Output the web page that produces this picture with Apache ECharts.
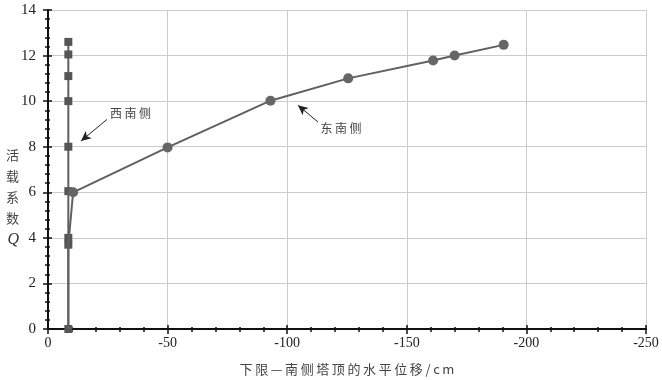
<!DOCTYPE html>
<html><head><meta charset="utf-8">
<script src="https://cdn.jsdelivr.net/npm/echarts@6/dist/echarts.min.js"></script>
<style>html,body{margin:0;padding:0;background:#fff}#c{width:662px;height:380px}</style>
</head><body><div id="c"></div>
<script>
// West-south side (squares)
const westX = [-8.5, -8.5, -8.5, -8.5, -8.5, -8.5, -8.5, -8.5, -8.5];
const westQ = [0, 3.7, 4.0, 6.05, 8.0, 10.0, 11.1, 12.05, 12.6];
// East-south side (circles)
const eastX = [-8.5, -8.5, -10.5, -50, -93, -125.5, -161, -170, -190.5];
const eastQ = [0, 3.7, 6.0, 7.97, 10.02, 11.0, 11.78, 12.0, 12.47];
const showEastSymbol = [false, false, true, true, true, true, true, true, true];
const xTicks = [0, -50, -100, -150, -200, -250];
const yTicks = [0, 2, 4, 6, 8, 10, 12, 14];
const labelWest = '西南侧', labelEast = '东南侧';
const xName = '下限—南侧塔顶的水平位移/cm';
const yNameChars = ['活', '载', '系', '数'];
// annotation anchors in data coordinates
const westArrow = [[-24.7, 9.2], [-13.8, 8.25]];
const eastArrow = [[-112.9, 9.08], [-104.5, 9.82]];
const westText = [-34.5, 9.45];
const eastText = [-122.5, 8.8];

const lineColor = '#606060';
const serif = 'Liberation Serif';
const cjk = 'Noto Sans CJK SC';
const spaced = s => Array.from(s).join('\u2009');

const westData = westX.map((x, i) => [x, westQ[i]]);
const eastData = eastX.map((x, i) => ({value: [x, eastQ[i]], symbol: showEastSymbol[i] ? 'circle' : 'none'}));

const xBase = {
  type: 'value', min: -250, max: 0, interval: 50, inverse: true,
  axisLine: {show: true, onZero: false, lineStyle: {color: '#111', width: 2}},
};
const yBase = {
  type: 'value', min: 0, max: 14, interval: 2,
  axisLine: {show: true, onZero: false, lineStyle: {color: '#111', width: 2}},
};
const textPoint = (txt, coord) => ({
  silent: true, symbol: 'circle', symbolSize: 2, itemStyle: {color: 'rgba(0,0,0,0)'},
  label: {show: true, position: 'inside', formatter: spaced(txt), color: '#444', fontFamily: cjk, fontSize: 12},
  data: [{coord: coord, value: txt}]
});
const arrow = pts => ({
  silent: true, symbol: ['none', 'arrow'], symbolSize: [7, 10],
  lineStyle: {color: '#222', width: 1, type: 'solid'}, label: {show: false},
  data: [[{coord: pts[0]}, {coord: pts[1]}]]
});

const chart = echarts.init(document.getElementById('c'), null, {renderer: 'canvas'});
chart.setOption({
  animation: false,
  grid: {left: 48, right: 16, top: 10, bottom: 51, outerBoundsMode: 'none', containLabel: false},
  xAxis: [
    Object.assign({}, xBase, {
      axisTick: {show: true, length: 5, lineStyle: {color: '#111', width: 1.5}},
      minorTick: {show: true, splitNumber: 5, length: 3, lineStyle: {color: '#111', width: 1.5}},
      axisLabel: {color: '#222', fontFamily: serif, fontSize: 14, margin: 7,
        customValues: xTicks, formatter: v => String(v)},
      splitLine: {show: true, lineStyle: {color: '#cccccc', width: 1}},
      name: spaced(xName), nameLocation: 'middle', nameGap: 34,
      nameTextStyle: {color: '#444', fontFamily: cjk, fontSize: 13}
    }),
    Object.assign({}, xBase, {
      axisTick: {show: true, inside: true, length: 4, lineStyle: {color: '#111', width: 1.5}},
      minorTick: {show: true, splitNumber: 5, length: 2, lineStyle: {color: '#111', width: 1.5}},
      axisLabel: {show: false}, splitLine: {show: false}, position: 'bottom'
    })
  ],
  yAxis: [
    Object.assign({}, yBase, {
      axisTick: {show: true, length: 5, lineStyle: {color: '#111', width: 1.5}},
      minorTick: {show: true, splitNumber: 5, length: 3, lineStyle: {color: '#111', width: 1.5}},
      axisLabel: {color: '#222', fontFamily: serif, fontSize: 15, margin: 12,
        customValues: yTicks, formatter: v => String(v)},
      splitLine: {show: true, lineStyle: {color: '#cccccc', width: 1}},
      name: yNameChars.join('\n') + '\n{q|Q}', nameLocation: 'middle', nameGap: 29, nameRotate: 0,
      nameMoveOverlap: false,
      nameTextStyle: {color: '#444', fontFamily: cjk, fontSize: 13, lineHeight: 21, padding: [56, 0, 0, 0],
        rich: {q: {fontFamily: serif, fontStyle: 'italic', fontSize: 16, color: '#333', lineHeight: 21}}}
    }),
    Object.assign({}, yBase, {
      axisTick: {show: true, inside: true, length: 4, lineStyle: {color: '#111', width: 1.5}},
      minorTick: {show: true, splitNumber: 5, length: 2, lineStyle: {color: '#111', width: 1.5}},
      axisLabel: {show: false}, splitLine: {show: false}, position: 'left'
    })
  ],
  series: [
    {
      name: labelWest, type: 'line', data: westData, symbol: 'rect', symbolSize: 8,
      lineStyle: {color: lineColor, width: 2}, itemStyle: {color: '#555'}, z: 3,
      markLine: arrow(westArrow), markPoint: textPoint(labelWest, westText)
    },
    {
      name: labelEast, type: 'line', data: eastData, symbol: 'circle', symbolSize: 10,
      lineStyle: {color: lineColor, width: 2}, itemStyle: {color: '#666'}, z: 4,
      markLine: arrow(eastArrow), markPoint: textPoint(labelEast, eastText)
    }
  ]
});
</script></body></html>
